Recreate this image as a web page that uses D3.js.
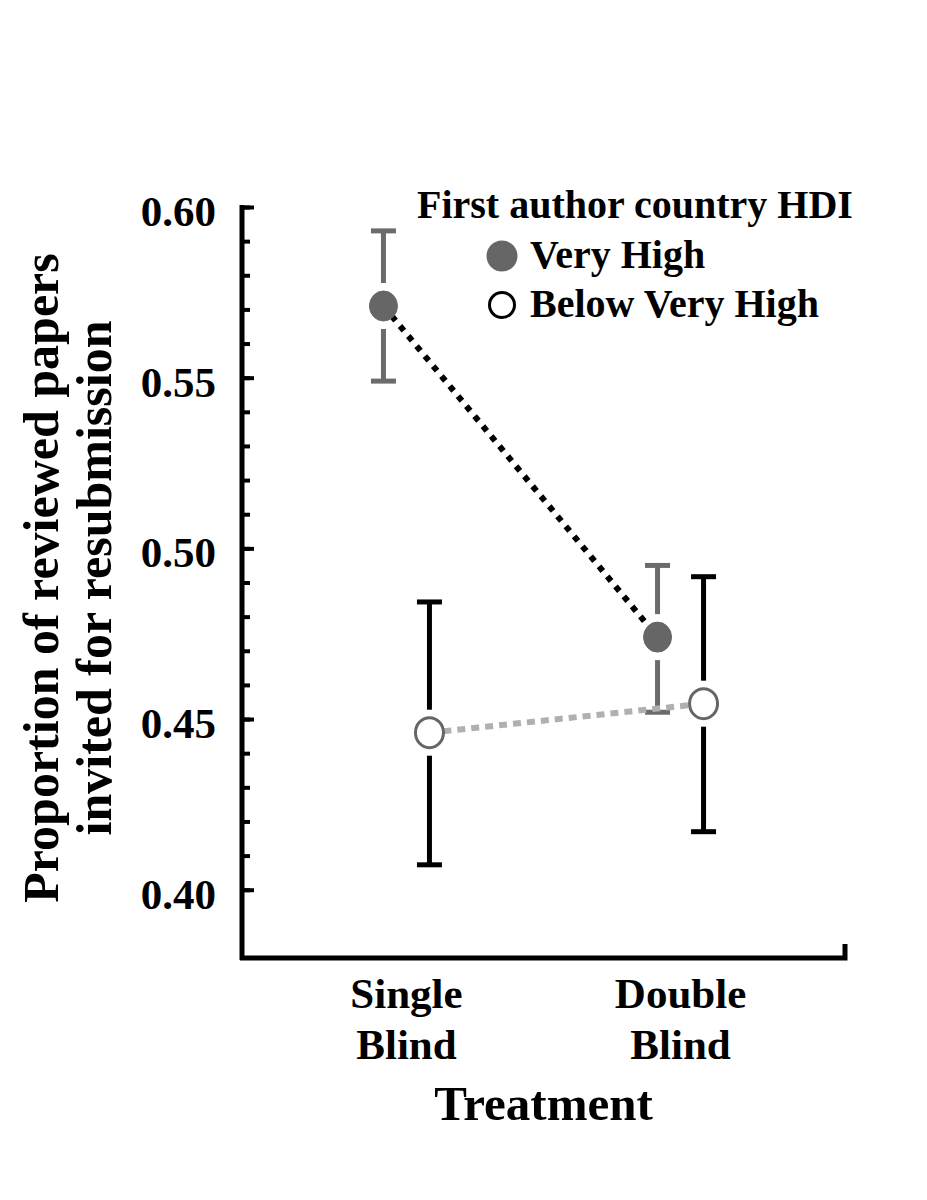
<!DOCTYPE html>
<html>
<head>
<meta charset="utf-8">
<script src="https://cdn.jsdelivr.net/npm/d3@7"></script>
<style>
  body { margin: 0; background: #fff; }
  text { font-family: 'Liberation Serif', 'Times New Roman', serif; font-weight: bold; fill: #000; }
</style>
</head>
<body>
<div id="chart"></div>
<script>
// data
const treatments = ['Single Blind', 'Double Blind']
const groups = ['Very High', 'Below Very High']
const veryHighMean = [0.571, 0.474]
const veryHighLow = [0.549, 0.452]
const veryHighHigh = [0.593, 0.495]
const belowMean = [0.446, 0.4545]
const belowLow = [0.4073, 0.417]
const belowHigh = [0.4843, 0.4917]
const majorTicks = [0.40, 0.45, 0.50, 0.55, 0.60]
const minorTicks = d3.range(40, 61).map((d) => d / 100)

const width = 927, height = 1200
const margin = { top: 207, right: 82, bottom: 242, left: 242 }
const gapR = 23 // gap in error bars around the markers

const svg = d3.select('#chart').append('svg')
  .attr('width', width).attr('height', height)

const x = d3.scalePoint()
  .domain(treatments)
  .range([margin.left, width - margin.right])
  .padding(0.6)

const y = d3.scaleLinear()
  .domain([0.38, 0.60])
  .range([height - margin.bottom, margin.top])

const dodge = 23

const series = [
  { name: groups[0], mean: veryHighMean, lo: veryHighLow, hi: veryHighHigh, off: -dodge,
    barColor: '#6b6b6b', fill: '#666', stroke: '#666', line: '#000', dash: '6,7', lw: 6 },
  { name: groups[1], mean: belowMean, lo: belowLow, hi: belowHigh, off: dodge,
    barColor: '#000', fill: '#fff', stroke: '#666', line: '#b0b0b0', dash: '8,6', lw: 6 }
]

const pts = (s) => treatments.map((t, i) => ({ t, m: s.mean[i], lo: s.lo[i], hi: s.hi[i], cx: x(t) + s.off }))

// y axis: minor then major ticks pointing inwards
svg.append('g')
  .attr('transform', `translate(${margin.left},0)`)
  .call(d3.axisRight(y).tickValues(minorTicks).tickSize(8).tickSizeOuter(0).tickFormat(''))
  .call((g) => g.select('.domain').remove())
  .call((g) => g.selectAll('line').attr('stroke', '#000').attr('stroke-width', 4))

svg.append('g')
  .attr('transform', `translate(${margin.left},0)`)
  .call(d3.axisRight(y).tickValues(majorTicks).tickSize(12).tickSizeOuter(0).tickFormat(''))
  .call((g) => g.select('.domain').remove())
  .call((g) => g.selectAll('line').attr('stroke', '#000').attr('stroke-width', 4))

svg.append('line')
  .attr('x1', margin.left).attr('x2', margin.left)
  .attr('y1', y(0.60) - 2).attr('y2', y(0.38) + 2)
  .attr('stroke', '#000').attr('stroke-width', 5)

svg.append('g').selectAll('text')
  .data(majorTicks)
  .join('text')
  .attr('x', 216)
  .attr('y', (d) => y(d) + 19)
  .attr('text-anchor', 'end')
  .attr('font-size', '43px')
  .text((d) => d.toFixed(2))

// x axis
const xEnd = width - margin.right
svg.append('path')
  .attr('d', `M${margin.left - 2},${y(0.38)}H${xEnd}V${y(0.38) - 14}`)
  .attr('fill', 'none')
  .attr('stroke', '#000')
  .attr('stroke-width', 5)

// category labels (two lines)
svg.append('g').selectAll('text')
  .data(treatments)
  .join('text')
  .attr('text-anchor', 'middle')
  .attr('font-size', '43px')
  .each(function (d) {
    const words = d.split(' ')
    d3.select(this).selectAll('tspan')
      .data(words)
      .join('tspan')
      .attr('x', x(d))
      .attr('y', (w, i) => 1008 + i * 51)
      .text((w) => w)
  })

svg.append('text')
  .attr('x', x.range()[0] + (x.range()[1] - x.range()[0]) / 2)
  .attr('y', 1120)
  .attr('text-anchor', 'middle')
  .attr('font-size', '49px')
  .text('Treatment')

// y label
const yLabel = svg.append('text')
  .attr('transform', 'translate(0,578) rotate(-90)')
  .attr('text-anchor', 'middle')
  .attr('font-size', '50px')
yLabel.append('tspan').attr('x', 0).attr('y', 58).text('Proportion of reviewed papers')
yLabel.append('tspan').attr('x', 0).attr('y', 111).text('invited for resubmission')

// error bars
series.forEach((s) => {
  const g = svg.append('g').attr('stroke', s.barColor).attr('stroke-width', 5)
  pts(s).forEach((p) => {
    g.append('line').attr('x1', p.cx).attr('x2', p.cx).attr('y1', y(p.hi)).attr('y2', y(p.m) - gapR)
    g.append('line').attr('x1', p.cx).attr('x2', p.cx).attr('y1', y(p.m) + gapR).attr('y2', y(p.lo))
    g.append('line').attr('x1', p.cx - 12.5).attr('x2', p.cx + 12.5).attr('y1', y(p.hi)).attr('y2', y(p.hi))
    g.append('line').attr('x1', p.cx - 12.5).attr('x2', p.cx + 12.5).attr('y1', y(p.lo)).attr('y2', y(p.lo))
  })
})

// connecting dotted lines
series.slice().reverse().forEach((s) => {
  svg.append('path')
    .datum(pts(s))
    .attr('d', d3.line().x((d) => d.cx).y((d) => y(d.m)))
    .attr('fill', 'none')
    .attr('stroke', s.line)
    .attr('stroke-width', s.lw)
    .attr('stroke-dasharray', s.dash)
})

// markers
series.forEach((s) => {
  svg.append('g').selectAll('ellipse')
    .data(pts(s))
    .join('ellipse')
    .attr('cx', (d) => d.cx)
    .attr('cy', (d) => y(d.m))
    .attr('rx', 14)
    .attr('ry', 15)
    .attr('fill', s.fill)
    .attr('stroke', s.stroke)
    .attr('stroke-width', s.fill === '#fff' ? 3 : 1)
})

// legend
const legend = svg.append('g')
legend.append('text')
  .attr('x', 417).attr('y', 218)
  .attr('font-size', '40px')
  .text('First author country HDI')

legend.selectAll('circle')
  .data(series)
  .join('circle')
  .attr('cx', 502)
  .attr('cy', (d, i) => 256 + i * 49)
  .attr('r', (d, i) => (i === 0 ? 14 : 12.5))
  .attr('fill', (d) => d.fill)
  .attr('stroke', (d, i) => (i === 0 ? d.fill : '#000'))
  .attr('stroke-width', 3)

legend.selectAll('text.item')
  .data(series)
  .join('text')
  .attr('class', 'item')
  .attr('x', 530)
  .attr('y', (d, i) => 268 + i * 49)
  .attr('font-size', '40px')
  .text((d) => d.name)
</script>
</body>
</html>
